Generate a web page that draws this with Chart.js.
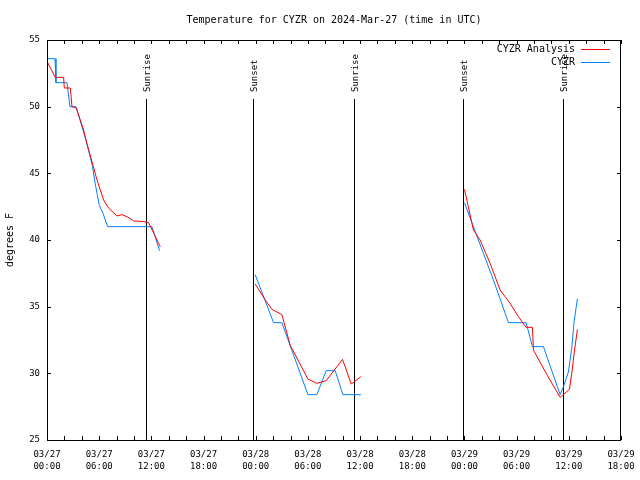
<!DOCTYPE html>
<html><head><meta charset="utf-8">
<script src="https://cdn.jsdelivr.net/npm/chart.js@4/dist/chart.umd.min.js"></script>
<style>html,body{margin:0;padding:0;background:#fff}#wrap{width:640px;height:480px;position:relative}</style>
</head><body><div id="wrap"><canvas id="c" width="640" height="480"></canvas></div>
<script>
const titleText = 'Temperature for CYZR on 2024-Mar-27 (time in UTC)';
const yAxisTitle = 'degrees F';
const seriesNames = ['CYZR Analysis', 'CYZR'];

// x values are hours after 03/27 00:00 UTC; null separates gaps
const analysisHours = [0,0.95,1.91,1.99,2.68,2.87,3.37,3.83,4.21,4.48,5.75,6.13,6.51,7.08,8.05,8.62,9.20,9.95,11.10,11.68,13.02,
  18,
  23.94,25.09,25.86,27.01,27.97,30.0,31.03,32.1,33.98,34.98,36.09,
  42,
  48.0,49.03,49.8,50.95,52.1,53.25,54.2,55.09,55.82,55.93,57.48,59.0,60.07,60.34,60.61,60.99];
const analysisTemps = [53.4,52.2,52.2,51.4,51.4,50.0,49.9,49.0,48.25,47.5,44.5,43.75,43.0,42.4,41.8,41.9,41.75,41.43,41.38,41.3,39.5,
  null,
  36.7,35.5,34.8,34.4,32.1,29.57,29.25,29.45,31.05,29.2,29.75,
  null,
  43.8,40.75,40.0,38.25,36.25,35.25,34.25,33.45,33.45,31.75,29.9,28.2,28.8,30.0,31.5,33.3];

const obsHours = [0,0.92,1.03,2.30,2.64,3.33,4.48,4.86,5.24,5.47,5.75,6.01,6.44,6.97,12.07,12.94,
  18,
  23.94,26.05,27.01,30.0,31.03,32.1,33.14,34.02,36.09,
  42,
  48.0,49.03,50.18,51.33,53.06,55.09,55.82,57.08,59.0,59.38,59.95,60.34,60.61,60.99];
const obsTemps = [53.6,53.6,51.8,51.8,50.0,50.0,47.5,46.5,45.5,44.5,43.5,42.6,42.0,41.0,41.0,39.2,
  null,
  37.4,33.8,33.8,28.4,28.4,30.2,30.2,28.4,28.4,
  null,
  42.8,41.0,39.0,37.0,33.8,33.8,32.0,32.0,28.4,29.0,30.1,31.9,33.9,35.6];

const xTickHours = [0,6,12,18,24,30,36,42,48,54,60,66];
const xTickDates = ['03/27','03/27','03/27','03/27','03/28','03/28','03/28','03/28','03/29','03/29','03/29','03/29'];
const xTickTimes = ['00:00','06:00','12:00','18:00','00:00','06:00','12:00','18:00','00:00','06:00','12:00','18:00'];
const yTicks = [25,30,35,40,45,50,55];

const sunHours = [11.34,23.71,35.32,47.78,59.34];
const sunLabels = ['Sunrise','Sunset','Sunrise','Sunset','Sunrise'];

const MONO = "'DejaVu Sans Mono', 'Liberation Mono', monospace";

function toXY(xs, ys){ return xs.map((x,i)=>({x:x, y:ys[i]})); }

const decor = {
  id: 'decor',
  beforeDatasetsDraw(chart){
    const ctx = chart.ctx, a = chart.chartArea, xs = chart.scales.x;
    ctx.save();
    ctx.strokeStyle = '#000'; ctx.lineWidth = 1;
    ctx.fillStyle = '#000';
    ctx.font = '9px ' + MONO;
    sunHours.forEach((h,i)=>{
      const x = Math.round(xs.getPixelForValue(h)) + 0.5;
      ctx.beginPath(); ctx.moveTo(x, a.top + 59); ctx.lineTo(x, a.bottom); ctx.stroke();
      ctx.save();
      ctx.translate(x + 1, a.top + 52);
      ctx.rotate(-Math.PI/2);
      ctx.textAlign = 'left'; ctx.textBaseline = 'middle';
      ctx.fillText(sunLabels[i], 0, 0);
      ctx.restore();
    });
    ctx.restore();
  },
  afterDraw(chart){
    const ctx = chart.ctx, a = chart.chartArea, xs = chart.scales.x, ys = chart.scales.y;
    ctx.save();
    ctx.strokeStyle = '#000'; ctx.lineWidth = 1;
    ctx.strokeRect(Math.round(a.left)+0.5, Math.round(a.top)+0.5, Math.round(a.right-a.left)-1, Math.round(a.bottom-a.top));
    ctx.beginPath();
    for (let h = xs.min; h <= xs.max; h += 2){
      const x = Math.round(xs.getPixelForValue(h)) + 0.5;
      ctx.moveTo(x, a.bottom); ctx.lineTo(x, a.bottom - 4);
      ctx.moveTo(x, a.top); ctx.lineTo(x, a.top + 4);
    }
    yTicks.forEach(v=>{
      const y = Math.round(ys.getPixelForValue(v)) + 0.5;
      ctx.moveTo(a.left, y); ctx.lineTo(a.left + 4, y);
      ctx.moveTo(a.right, y); ctx.lineTo(a.right - 4, y);
    });
    ctx.stroke();
    // title
    ctx.fillStyle = '#000';
    ctx.font = '10px ' + MONO;
    ctx.textAlign = 'center'; ctx.textBaseline = 'middle';
    ctx.fillText(titleText, (a.left + a.right)/2, 20);
    // legend
    ctx.textAlign = 'right';
    chart.data.datasets.forEach((ds,i)=>{
      const y = 49 + i*13;
      ctx.fillStyle = '#000';
      ctx.fillText(ds.label, 575, y);
      ctx.strokeStyle = ds.borderColor;
      ctx.beginPath(); ctx.moveTo(581, y + 0.5); ctx.lineTo(610, y + 0.5); ctx.stroke();
    });
    ctx.restore();
  }
};

new Chart(document.getElementById('c'), {
  type: 'line',
  data: {
    datasets: [
      { label: seriesNames[0], data: toXY(analysisHours, analysisTemps), borderColor: '#ff0000', borderWidth: 1, pointRadius: 0, fill: false, spanGaps: false, tension: 0 },
      { label: seriesNames[1], data: toXY(obsHours, obsTemps), borderColor: '#0080ff', borderWidth: 1, pointRadius: 0, fill: false, spanGaps: false, tension: 0 }
    ]
  },
  options: {
    responsive: false, animation: false, devicePixelRatio: 1,
    layout: { padding: { top: 40, right: 19, left: 0, bottom: 0 } },
    plugins: { legend: { display: false }, title: { display: false }, tooltip: { enabled: false } },
    scales: {
      x: {
        type: 'linear', min: 0, max: 66,
        afterBuildTicks: s => { s.ticks = xTickHours.map(v=>({value:v})); },
        afterFit: s => { s.height = 40; s.paddingLeft = 0; s.paddingRight = 0; },
        grid: { display: false, drawTicks: false },
        border: { display: false },
        ticks: {
          autoSkip: false, maxRotation: 0, padding: 8, color: '#000',
          font: { family: MONO, size: 9, lineHeight: 1.4 },
          callback: v => { const i = xTickHours.indexOf(v); return i < 0 ? '' : [xTickDates[i], xTickTimes[i]]; }
        }
      },
      y: {
        min: 25, max: 55,
        afterBuildTicks: s => { s.ticks = yTicks.map(v=>({value:v})); },
        afterFit: s => { s.width = 47; s.paddingTop = 0; s.paddingBottom = 0; },
        grid: { display: false, drawTicks: false },
        border: { display: false },
        title: { display: true, text: yAxisTitle, color: '#000', font: { family: MONO, size: 10 }, padding: { top: 4, bottom: 0 } },
        ticks: { autoSkip: false, padding: 7, color: '#000', font: { family: MONO, size: 9 } }
      }
    }
  },
  plugins: [decor]
});
</script>
</body></html>
